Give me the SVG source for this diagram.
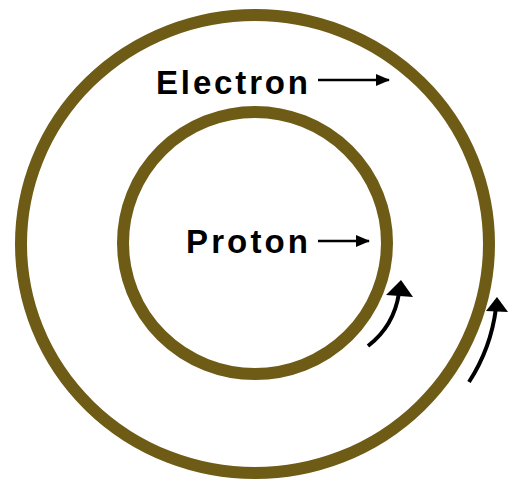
<svg xmlns="http://www.w3.org/2000/svg" width="508" height="485" viewBox="0 0 508 485">
<style>
.ring{fill:none;stroke:#6e5b16;stroke-width:12}
.lbl{font-family:"Liberation Sans",Arial,sans-serif;font-weight:bold;font-size:33px;fill:#000}
.ln{stroke:#000;stroke-width:2.5;fill:none}
.cv{stroke:#000;stroke-width:4;fill:none}
</style>
<defs>
<marker id="ah" markerWidth="14" markerHeight="12" refX="13" refY="6" orient="auto" markerUnits="userSpaceOnUse"><path d="M0,0 L14,6 L0,12 Z" fill="#000"/></marker>
</defs>
<g id="outer-ring"><ellipse class="ring" cx="255" cy="244" rx="234" ry="229"/></g>
<g id="inner-ring"><ellipse class="ring" cx="255" cy="243" rx="132" ry="131"/></g>
<g id="electron-label"><text class="lbl" x="156" y="94" textLength="152" lengthAdjust="spacing">Electron</text></g>
<g id="proton-label"><text class="lbl" x="186" y="253" textLength="122" lengthAdjust="spacing">Proton</text></g>
<g id="connectors">
<line class="ln" x1="318" y1="80" x2="389" y2="80" marker-end="url(#ah)"/>
<line class="ln" x1="318" y1="241" x2="369" y2="241" marker-end="url(#ah)"/>
<path class="cv" d="M368,346 Q394,326 399,293"/>
<path d="M401,280 L386,295 L413,297 Z" fill="#000"/>
<path class="cv" d="M469,382 Q491,348 496,308"/>
<path d="M497,297 L486,311 L508,312 Z" fill="#000"/>
</g>
</svg>
